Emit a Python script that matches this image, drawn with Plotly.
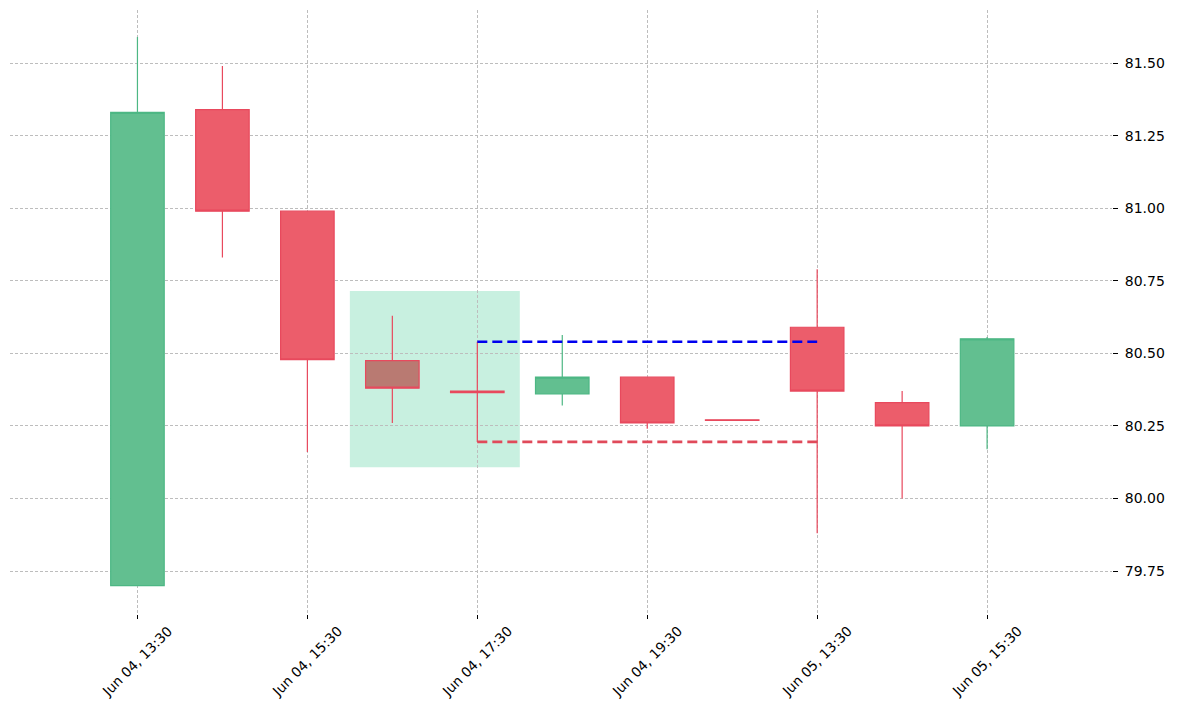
import plotly.graph_objects as go

labels = ["Jun 04, 13:30", "Jun 04, 14:30", "Jun 04, 15:30", "Jun 04, 16:30",
          "Jun 04, 17:30", "Jun 04, 18:30", "Jun 04, 19:30", "Jun 04, 20:30",
          "Jun 05, 13:30", "Jun 05, 14:30", "Jun 05, 15:30"]
opens  = [79.70, 81.34, 80.99, 80.475, 80.37, 80.36, 80.418, 80.271, 80.59, 80.33, 80.25]
highs  = [81.59, 81.49, 80.99, 80.63, 80.54, 80.563, 80.418, 80.271, 80.79, 80.37, 80.556]
lows   = [79.70, 80.83, 80.16, 80.26, 80.195, 80.32, 80.24, 80.269, 79.88, 80.00, 80.17]
closes = [81.33, 80.99, 80.478, 80.38, 80.365, 80.418, 80.26, 80.269, 80.37, 80.25, 80.55]

pattern_idx = [3, 4]
zone_low, zone_high = 80.108, 80.715
level_high = 80.54
level_low = 80.195
level_start, level_end = 4, 8
tick_labels = labels[::2]

GREEN = "#62bf90"
GREEN_LINE = "#4db784"
RED = "#ec5d6b"
RED_LINE = "#e8495d"
BROWN = "#b97a72"

normal = [i for i in range(len(labels)) if i not in pattern_idx]

fig = go.Figure()
fig.add_trace(go.Candlestick(
    x=[labels[i] for i in normal],
    open=[opens[i] for i in normal], high=[highs[i] for i in normal],
    low=[lows[i] for i in normal], close=[closes[i] for i in normal],
    increasing=dict(fillcolor=GREEN, line=dict(color=GREEN_LINE, width=1.2)),
    decreasing=dict(fillcolor=RED, line=dict(color=RED_LINE, width=1.2)),
    showlegend=False, hoverinfo="skip"))
fig.add_trace(go.Candlestick(
    x=[labels[i] for i in pattern_idx],
    open=[opens[i] for i in pattern_idx], high=[highs[i] for i in pattern_idx],
    low=[lows[i] for i in pattern_idx], close=[closes[i] for i in pattern_idx],
    increasing=dict(fillcolor=BROWN, line=dict(color=RED_LINE, width=1.2)),
    decreasing=dict(fillcolor=BROWN, line=dict(color=RED_LINE, width=1.2)),
    showlegend=False, hoverinfo="skip"))

fig.add_trace(go.Scatter(
    x=[labels[level_start], labels[level_end]], y=[level_high, level_high],
    mode="lines", line=dict(color="#0000ee", width=2.6, dash="10px,5px"),
    showlegend=False, hoverinfo="skip"))
fig.add_trace(go.Scatter(
    x=[labels[level_start], labels[level_end]], y=[level_low, level_low],
    mode="lines", line=dict(color="#e04a5a", width=2.6, dash="10px,5px"),
    showlegend=False, hoverinfo="skip"))

fig.add_shape(type="rect", xref="x", yref="y",
              x0=pattern_idx[0] - 0.5, x1=pattern_idx[-1] + 0.5,
              y0=zone_low, y1=zone_high,
              fillcolor="#c8f0e0", line=dict(width=0), layer="below")

# x tick labels rotated about their centre (as in the reference)
for lab in tick_labels:
    fig.add_annotation(x=lab, xref="x", y=-0.0785, yref="paper",
                       text=lab, textangle=-45, showarrow=False,
                       xanchor="center", yanchor="middle",
                       font=dict(family="DejaVu Sans", size=13.7, color="black"))

fig.update_layout(
    width=1171, height=700,
    margin=dict(l=2, r=67, t=2, b=94),
    paper_bgcolor="white", plot_bgcolor="white",
    font=dict(family="DejaVu Sans", size=14, color="black"),
    boxgap=0.1,
    xaxis=dict(type="category", categoryorder="array", categoryarray=labels,
               range=[-1.5, 11.47], rangeslider=dict(visible=False),
               tickmode="array", tickvals=tick_labels, ticktext=tick_labels,
               showticklabels=False,
               ticks="outside", ticklen=4, tickcolor="black",
               showgrid=True, gridcolor="#bdbdbd", griddash="3px,2px", gridwidth=0.7,
               showline=False, zeroline=False, automargin=False),
    yaxis=dict(side="right", range=[79.602, 81.683], tickmode="linear",
               tick0=79.75, dtick=0.25, tickformat=".2f",
               ticks="outside", ticklen=5, tickcolor="black", ticklabelstandoff=4,
               showgrid=True, gridcolor="#bdbdbd", griddash="3px,2px", gridwidth=0.7,
               showline=False, zeroline=False, automargin=False),
)

fig.write_html("out.html")
